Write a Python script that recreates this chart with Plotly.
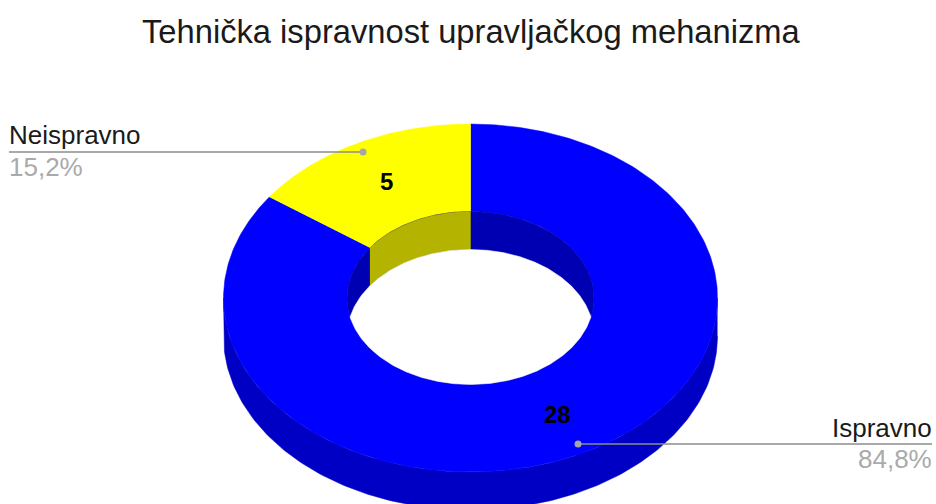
import numpy as np
import plotly.graph_objects as go

title = "Tehnička ispravnost upravljačkog mehanizma"
categories = ["Ispravno", "Neispravno"]
values = [28, 5]
percent_labels = ["84,8%", "15,2%"]

W, H = 936, 504
CX, CY = 470.5, 298
RX, RY = 247, 174
IRX, IRY = 123.5, 86.5
DEPTH = 38
FONT = "Liberation Sans"
BLUE, BLUE_SIDE, BLUE_WALL = "#0000ff", "#0000c4", "#0000b3"
YEL, YEL_WALL = "#ffff00", "#b3b300"
GREY = "#8c8c8c"


def arc(a0, a1, rx, ry, dy=0, n=180):
    """Angles clockwise from 12 o'clock, in radians."""
    t = np.linspace(a0, a1, n)
    return CX + rx * np.sin(t), CY + dy - ry * np.cos(t)


def poly(fig, xs, ys, color):
    fig.add_trace(go.Scatter(x=xs, y=ys, mode="lines", fill="toself", fillcolor=color,
                             line=dict(color=color, width=0.5), hoverinfo="skip", showlegend=False))


total = sum(values)
a_split = 2 * np.pi * values[0] / total  # Ispravno runs 0..a_split, Neispravno a_split..2pi

fig = go.Figure()

# outer side wall (front half)
x1, y1 = arc(np.pi / 2, 3 * np.pi / 2, RX, RY)
x2, y2 = arc(3 * np.pi / 2, np.pi / 2, RX, RY, DEPTH)
poly(fig, np.r_[x1, x2], np.r_[y1, y2], BLUE_SIDE)

# top face sectors
for (a0, a1, col) in [(0, a_split, BLUE), (a_split, 2 * np.pi, YEL)]:
    x1, y1 = arc(a0, a1, RX, RY, n=360)
    x2, y2 = arc(a1, a0, IRX, IRY, n=360)
    poly(fig, np.r_[x1, x2], np.r_[y1, y2], col)

# hole: inner wall
x1, y1 = arc(0, 2 * np.pi, IRX, IRY, n=360)
poly(fig, x1, y1, BLUE_WALL)
x1, y1 = arc(a_split, 2 * np.pi, IRX, IRY)
x2, y2 = arc(2 * np.pi, a_split, IRX, IRY, DEPTH)
poly(fig, np.r_[x1, x2], np.r_[y1, y2], YEL_WALL)

# hole: see-through lens where top and bottom rims overlap
tip = np.arccos(-(DEPTH / 2) / IRY)
tx = IRX * np.sin(tip)
xs = np.linspace(-tx, tx, 300)
lens_bot = CY + IRY * np.sqrt(1 - (xs / IRX) ** 2)
lens_top = CY + DEPTH - IRY * np.sqrt(1 - (xs / IRX) ** 2)
poly(fig, np.r_[CX + xs, CX + xs[::-1]], np.r_[lens_top, lens_bot[::-1]], "#ffffff")

# leader lines
for (xa, xb, y) in [(9, 363, 152), (578, 932, 444)]:
    fig.add_trace(go.Scatter(x=[xa, xb], y=[y, y], mode="lines",
                             line=dict(color=GREY, width=1.6), hoverinfo="skip", showlegend=False))
fig.add_trace(go.Scatter(x=[363, 578], y=[152, 444], mode="markers",
                         marker=dict(color="#a6a6a6", size=7), hoverinfo="skip", showlegend=False))

ann = []


def text(x, y, s, size, color, anchor="left", bold=False):
    ann.append(dict(x=x, y=y, text=f"<b>{s}</b>" if bold else s, showarrow=False, xanchor=anchor,
                    yanchor="middle", xshift=0, font=dict(family=FONT, size=size, color=color),
                    xref="x", yref="y", borderpad=0, borderwidth=0))


text(471, 31, title, 32.7, "#1a1a1a", "center")
text(9, 135, categories[1], 26, "#1a1a1a")
text(9, 167, percent_labels[1], 26, "#aaaaaa")
text(932, 428, categories[0], 26, "#1a1a1a", "right")
text(932, 459, percent_labels[0], 26, "#aaaaaa", "right")
text(386, 181, str(values[1]), 24, "#000000", "center", True)
text(557, 414, str(values[0]), 24, "#000000", "center", True)

fig.update_layout(
    width=W, height=H, margin=dict(l=0, r=0, t=0, b=0), paper_bgcolor="white", plot_bgcolor="white",
    xaxis=dict(range=[0, W], visible=False, fixedrange=True),
    yaxis=dict(range=[H, 0], visible=False, fixedrange=True),
    annotations=ann, showlegend=False,
)
fig.write_html("out.html", config=dict(displayModeBar=False),
               post_script="document.body.style.margin='0';document.body.style.overflow='hidden';")
